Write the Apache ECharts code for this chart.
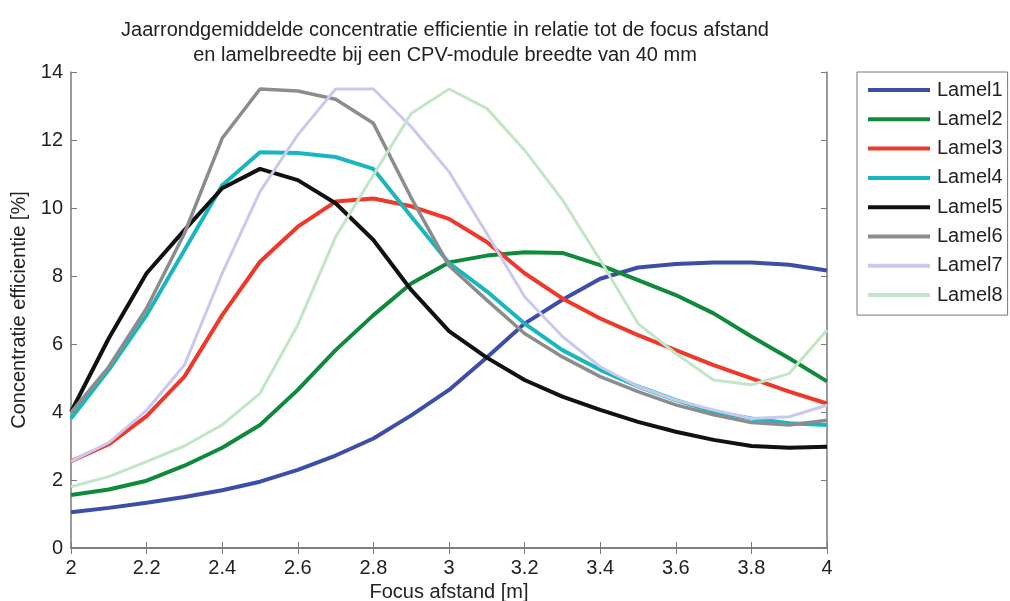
<!DOCTYPE html>
<html>
<head>
<meta charset="utf-8">
<script src="https://cdn.jsdelivr.net/npm/echarts@6/dist/echarts.min.js"></script>
<style>
  html, body { margin: 0; padding: 0; background: #fff; }
  #chart { width: 1010px; height: 601px; }
</style>
</head>
<body>
<div id="chart"></div>
<script>
// focus afstand [m]
var focus = [2.0, 2.1, 2.2, 2.3, 2.4, 2.5, 2.6, 2.7, 2.8, 2.9, 3.0,
             3.1, 3.2, 3.3, 3.4, 3.5, 3.6, 3.7, 3.8, 3.9, 4.0];

// efficientie [%] per lamel
var lamel1 = [1.05, 1.18, 1.33, 1.5, 1.7, 1.95, 2.3, 2.72, 3.22, 3.9, 4.65,
              5.6, 6.6, 7.3, 7.92, 8.25, 8.35, 8.4, 8.4, 8.33, 8.16];
var lamel2 = [1.56, 1.72, 1.98, 2.42, 2.95, 3.62, 4.65, 5.82, 6.85, 7.78, 8.4,
              8.6, 8.7, 8.68, 8.32, 7.88, 7.44, 6.9, 6.22, 5.58, 4.9];
var lamel3 = [2.55, 3.05, 3.88, 5.04, 6.85, 8.42, 9.45, 10.19, 10.28, 10.05, 9.68,
              9.0, 8.08, 7.34, 6.75, 6.26, 5.82, 5.38, 4.99, 4.6, 4.25];
var lamel4 = [3.81, 5.24, 6.85, 8.76, 10.67, 11.64, 11.62, 11.5, 11.15, 9.75, 8.38,
              7.55, 6.6, 5.82, 5.24, 4.75, 4.35, 4.01, 3.81, 3.67, 3.62];
var lamel5 = [4.0, 6.17, 8.08, 9.35, 10.58, 11.15, 10.82, 10.14, 9.06, 7.59, 6.38,
              5.6, 4.94, 4.45, 4.06, 3.71, 3.42, 3.18, 3.0, 2.95, 2.98];
var lamel6 = [3.99, 5.33, 7.05, 9.25, 12.05, 13.5, 13.44, 13.2, 12.49, 10.3, 8.3,
              7.29, 6.31, 5.62, 5.04, 4.6, 4.21, 3.92, 3.69, 3.62, 3.76];
var lamel7 = [2.55, 3.1, 4.05, 5.38, 8.08, 10.48, 12.15, 13.5, 13.5, 12.39, 11.07,
              9.25, 7.39, 6.22, 5.33, 4.75, 4.35, 4.06, 3.81, 3.86, 4.2];
var lamel8 = [1.8, 2.1, 2.54, 3.0, 3.62, 4.55, 6.56, 9.15, 10.97, 12.78, 13.5,
              12.93, 11.7, 10.24, 8.47, 6.6, 5.72, 4.94, 4.8, 5.13, 6.41];

var names = ["Lamel1", "Lamel2", "Lamel3", "Lamel4", "Lamel5", "Lamel6", "Lamel7", "Lamel8"];
var values = [lamel1, lamel2, lamel3, lamel4, lamel5, lamel6, lamel7, lamel8];
var colors = ["#3d4ea8", "#0f8a3a", "#f0382a", "#1ab6bf", "#111111", "#8c8c8c", "#c9c9ee", "#c3e5c7"];
var widths = [4, 4, 4, 4, 4, 3.5, 3, 3];

var font = "'Liberation Sans', Arial, sans-serif";
var axisColor = "#7a7a7a";

var series = [];
for (var i = 0; i < names.length; i++) {
  var pts = [];
  for (var j = 0; j < focus.length; j++) {
    pts.push([focus[j], values[i][j]]);
  }
  series.push({
    name: names[i],
    type: "line",
    data: pts,
    xAxisIndex: 0,
    yAxisIndex: 0,
    symbol: "none",
    showSymbol: false,
    smooth: false,
    animation: false,
    lineStyle: { color: colors[i], width: widths[i] },
    itemStyle: { color: colors[i] }
  });
}

var chart = echarts.init(document.getElementById("chart"), null, { renderer: "canvas" });
chart.setOption({
  animation: false,
  title: {
    text: "Jaarrondgemiddelde concentratie efficientie in relatie tot de focus afstand\nen lamelbreedte bij een CPV-module breedte van 40 mm",
    left: 440,
    top: 13,
    textAlign: "center",
    textStyle: {
      fontFamily: font,
      fontSize: 20,
      fontWeight: "normal",
      color: "#222",
      lineHeight: 25
    }
  },
  legend: {
    orient: "vertical",
    left: 857,
    top: 72,
    padding: [8, 5, 10, 11],
    itemGap: 9.3,
    itemWidth: 62,
    itemHeight: 4,
    icon: "rect",
    borderColor: "#777",
    borderWidth: 1,
    backgroundColor: "#fff",
    data: names,
    textStyle: {
      fontFamily: font,
      fontSize: 20,
      color: "#222",
      lineHeight: 20,
      padding: [0, 0, 0, 2]
    }
  },
  grid: {
    left: 71,
    right: 183,
    top: 72,
    bottom: 53,
    containLabel: false,
    outerBoundsMode: "none"
  },
  xAxis: [
    {
      type: "value",
      min: 2,
      max: 4,
      interval: 0.2,
      name: "Focus afstand [m]",
      nameLocation: "middle",
      nameGap: 33,
      nameTextStyle: { fontFamily: font, fontSize: 20, color: "#222" },
      axisLine: { show: true, lineStyle: { color: axisColor, width: 1.5 } },
      axisTick: { show: true, inside: true, length: 6, lineStyle: { color: axisColor } },
      axisLabel: { fontFamily: font, fontSize: 20, color: "#222", margin: 10 },
      splitLine: { show: false }
    },
    {
      type: "value",
      position: "top",
      min: 2,
      max: 4,
      interval: 0.2,
      axisLine: { show: true, lineStyle: { color: axisColor, width: 1.5 } },
      axisTick: { show: true, inside: true, length: 6, lineStyle: { color: axisColor } },
      axisLabel: { show: false },
      splitLine: { show: false }
    }
  ],
  yAxis: [
    {
      type: "value",
      min: 0,
      max: 14,
      interval: 2,
      name: "Concentratie efficientie [%]",
      nameLocation: "middle",
      nameGap: 40,
      nameTextStyle: { fontFamily: font, fontSize: 20, color: "#222" },
      axisLine: { show: true, lineStyle: { color: axisColor, width: 1.5 } },
      axisTick: { show: true, inside: true, length: 6, lineStyle: { color: axisColor } },
      axisLabel: { fontFamily: font, fontSize: 20, color: "#222", margin: 8 },
      splitLine: { show: false }
    },
    {
      type: "value",
      position: "right",
      min: 0,
      max: 14,
      interval: 2,
      axisLine: { show: true, lineStyle: { color: axisColor, width: 1.5 } },
      axisTick: { show: true, inside: true, length: 6, lineStyle: { color: axisColor } },
      axisLabel: { show: false },
      splitLine: { show: false }
    }
  ],
  series: series
});
</script>
</body>
</html>
